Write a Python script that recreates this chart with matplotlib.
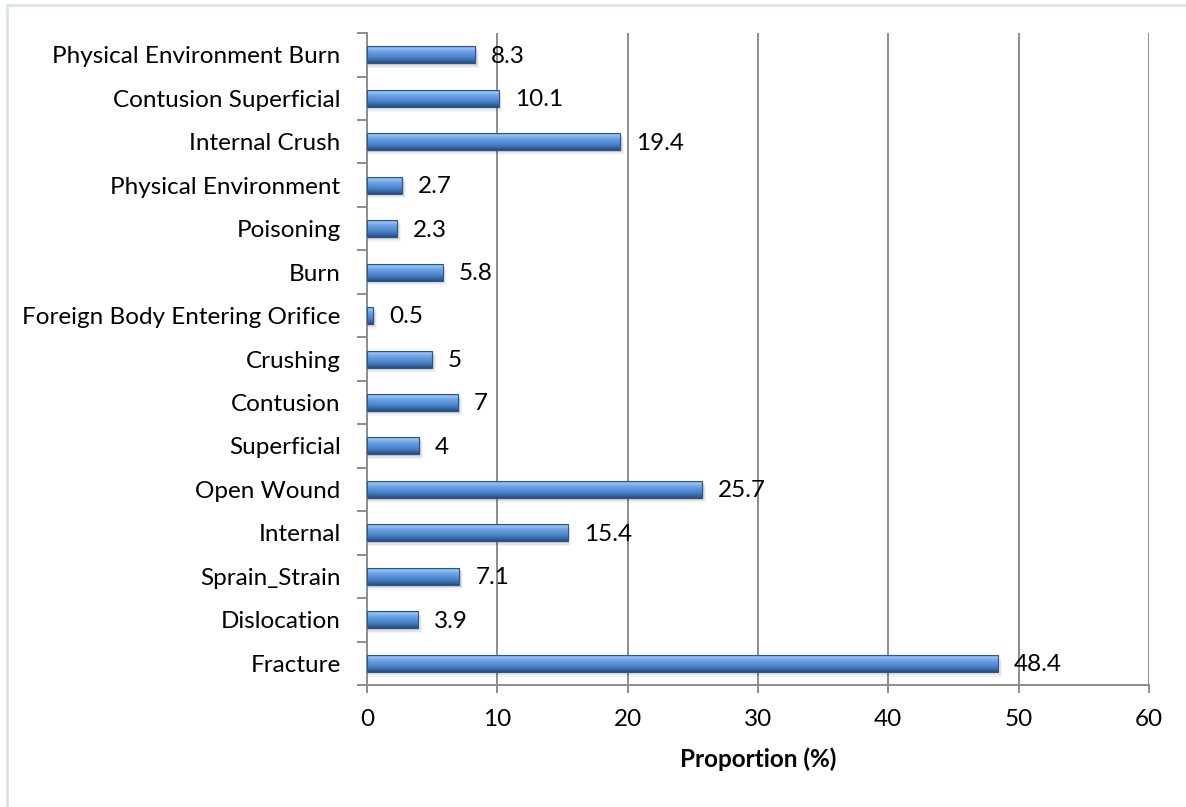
import matplotlib.pyplot as plt
import numpy as np
from matplotlib.colors import LinearSegmentedColormap
from matplotlib.patches import Rectangle

categories = [
    "Physical Environment Burn",
    "Contusion Superficial",
    "Internal Crush",
    "Physical Environment",
    "Poisoning",
    "Burn",
    "Foreign Body Entering Orifice",
    "Crushing",
    "Contusion",
    "Superficial",
    "Open Wound",
    "Internal",
    "Sprain_Strain",
    "Dislocation",
    "Fracture",
]
proportions = [8.3, 10.1, 19.4, 2.7, 2.3, 5.8, 0.5, 5, 7, 4, 25.7, 15.4, 7.1, 3.9, 48.4]
x_ticks = [0, 10, 20, 30, 40, 50, 60]

# bottom-up order for barh
cats = categories[::-1]
vals = proportions[::-1]

plt.rcParams['font.family'] = ['Lato', 'DejaVu Sans']
fs = 17.5

fig = plt.figure(figsize=(11.86, 8.07), dpi=100)
ax = fig.add_axes([0.3094, 0.1512, 0.6594, 0.8078])

# light frame (right and bottom edges run off the canvas)
fig.patches.append(Rectangle((7 / 1186, -0.05), 1.2, 0.05 + 802 / 807,
                             transform=fig.transFigure, fill=False,
                             edgecolor='#d9e2ee', linewidth=2, zorder=0))

grid_col = '#8c8c8c'
for t in x_ticks[1:]:
    ax.axvline(t, color=grid_col, lw=1.4, zorder=1)

# bevelled blue fill, top to bottom
bar_cmap = LinearSegmentedColormap.from_list('bevel', [
    (0.00, '#3a6bb0'), (0.10, '#9ec6f2'), (0.30, '#6ea5e6'),
    (0.65, '#4c84cf'), (0.88, '#34649f'), (1.00, '#274a7a')])
grad = np.linspace(0, 1, 64).reshape(-1, 1)

h = 0.39
for i, v in enumerate(vals):
    # soft drop shadow
    for k, a in enumerate([0.10, 0.07, 0.04]):
        off = 0.04 + 0.035 * k
        ax.add_patch(Rectangle((0.05, i - h / 2 - off), v + 0.08 * (k + 1), h,
                               facecolor='black', alpha=a, lw=0, zorder=2))
    ax.imshow(grad, cmap=bar_cmap, aspect='auto', interpolation='bilinear',
              extent=(0, v, i - h / 2, i + h / 2), origin='upper', zorder=3)
    ax.add_patch(Rectangle((0, i - h / 2), v, h, fill=False,
                           edgecolor='#2c568e', lw=0.8, zorder=4))
    ax.annotate(f"{v:g}", xy=(v, i), xytext=(11.5, -1), textcoords='offset points',
                ha='left', va='center', fontsize=fs, color='black', zorder=5)

ax.set_xlim(0, 60)
ax.set_ylim(-0.5, len(vals) - 0.5)
ax.set_aspect('auto')

ax.set_xticks(x_ticks)
ax.set_xticklabels([str(t) for t in x_ticks], fontsize=fs)
ax.set_yticks(range(len(vals)))
ax.set_yticklabels(cats, fontsize=fs)
ax.set_yticks(np.arange(-0.5, len(vals), 1), minor=True)

ax.tick_params(axis='y', which='major', length=0, pad=19)
ax.tick_params(axis='y', which='minor', length=7, width=1.4, color=grid_col, direction='out')
ax.tick_params(axis='x', which='major', length=6, width=1.4, color=grid_col, pad=11)

for s in ['top', 'right']:
    ax.spines[s].set_visible(False)
for s in ['left', 'bottom']:
    ax.spines[s].set_color(grid_col)
    ax.spines[s].set_linewidth(1.4)

ax.set_xlabel('Proportion (%)', fontsize=fs, fontweight='bold', labelpad=13)

fig.savefig('out.png', dpi=100)
